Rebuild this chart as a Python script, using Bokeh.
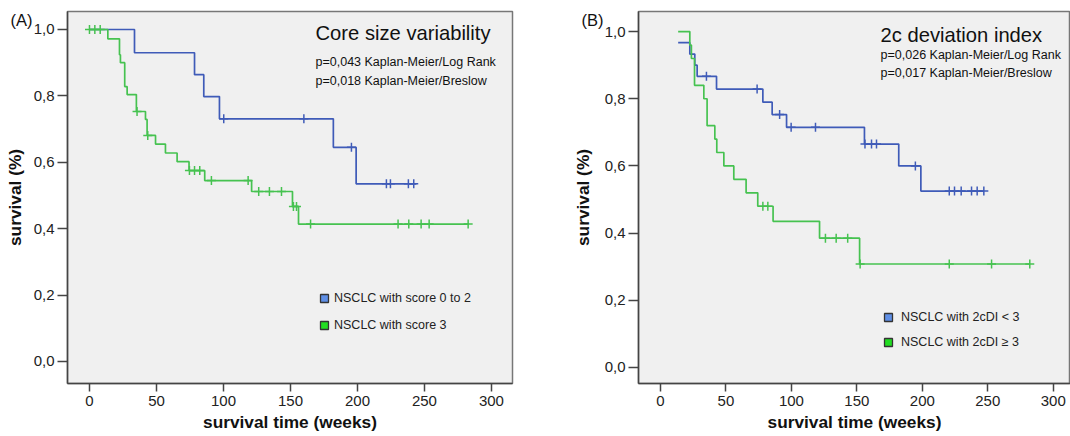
import numpy as np
from bokeh.plotting import figure
from bokeh.models import (Range1d, FixedTicker, CustomJSTickFormatter, Label,
                          Legend, LegendItem)
from bokeh.layouts import row
from bokeh.embed import file_html
from bokeh.resources import INLINE

# ---------------- data ----------------
# Panel A: Core size variability
A_blue_t = [0, 33.6, 78.4, 85.3, 97.0, 182.0, 199.0, 244.0]
A_blue_s = [1.0, 0.930, 0.864, 0.798, 0.731, 0.645, 0.535, 0.535]
A_blue_cens = [100.2, 160.0, 195.5, 221.6, 224.6, 238.0, 242.0]

A_green_t = [0, 13.7, 22.4, 23.1, 26.3, 28.1, 35.0, 41.8, 43.0, 49.3, 56.7,
             65.4, 74.3, 86.0, 121.0, 151.5, 156.0, 282.6]
A_green_s = [1.0, 0.972, 0.924, 0.900, 0.828, 0.804, 0.753, 0.729, 0.681,
             0.655, 0.628, 0.602, 0.575, 0.545, 0.512, 0.467, 0.414, 0.414]
A_green_cens = [0, 4, 8, 35.5, 43.5, 74.6, 78.4, 82.3, 91.0, 118.4, 126.3,
                134.3, 143.3, 152.2, 154.5, 165.0, 230.3, 238.3, 247.5, 253.5,
                282.6]

# Panel B: 2c deviation index
B_blue_t = [13.5, 22.4, 26.2, 28.0, 42.8, 78.2, 85.3, 96.3, 155.8, 182.0,
            198.9, 247.0]
B_blue_s = [0.967, 0.933, 0.900, 0.867, 0.829, 0.790, 0.753, 0.715, 0.665,
            0.600, 0.525, 0.525]
B_blue_cens = [35.1, 73.8, 91.0, 99.8, 118.4, 156.2, 161.2, 165.0, 194.7,
               220.6, 224.6, 229.7, 237.6, 241.9, 247.0]

B_green_t = [13.5, 22.4, 23.6, 26.0, 33.1, 35.6, 41.5, 43.0, 48.4, 56.0,
             65.4, 74.3, 86.0, 121.5, 152.1, 282.1]
B_green_s = [1.0, 0.96, 0.92, 0.84, 0.80, 0.72, 0.68, 0.64, 0.60, 0.56,
             0.52, 0.48, 0.435, 0.385, 0.308, 0.308]
B_green_cens = [78.2, 82.0, 126.0, 134.2, 143.0, 152.5, 220.6, 252.9, 282.1]

x_ticks = [0, 50, 100, 150, 200, 250, 300]
y_ticks = [0.0, 0.2, 0.4, 0.6, 0.8, 1.0]

A_title = "Core size variability"
A_p = ["p=0,043 Kaplan-Meier/Log Rank", "p=0,018 Kaplan-Meier/Breslow"]
A_legend = ["NSCLC with score 0 to 2", "NSCLC with score 3"]
B_title = "2c deviation index"
B_p = ["p=0,026 Kaplan-Meier/Log Rank", "p=0,017 Kaplan-Meier/Breslow"]
B_legend = ["NSCLC with 2cDI < 3", "NSCLC with 2cDI \u2265 3"]

# ---------------- style ----------------
FONT = "Liberation Sans"
BLUE = "#3f5bb8"
GREEN = "#46c250"
SW_BLUE = "#5f8fe6"
SW_GREEN = "#22dd22"
AX = "#444444"


def censor_levels(t, s, c):
    t = np.asarray(t, float)
    s = np.asarray(s, float)
    idx = np.searchsorted(t, np.asarray(c, float), side="right") - 1
    idx = np.clip(idx, 0, len(s) - 1)
    return s[idx]


def panel(width, xr, yr, borders, curves, legend_labels, legend_loc,
          legend_spacing, legend_standoff, title, plines, title_pos, tag,
          tag_offset, ylab_standoff):
    bl, br, bt, bb = borders
    p = figure(width=width, height=436, x_range=Range1d(*xr),
               y_range=Range1d(*yr), output_backend="svg",
               toolbar_location=None, min_border_left=bl,
               min_border_right=br, min_border_top=bt, min_border_bottom=bb)
    p.background_fill_color = "#f0f0f0"
    p.border_fill_color = "white"
    p.xgrid.visible = False
    p.ygrid.visible = False
    p.outline_line_color = "#777777"
    p.outline_line_width = 1.5

    # panel tag "(A)" / "(B)" drawn as the plot title, pulled left and down
    p.title.text = tag
    p.title.align = "left"
    p.title.offset = tag_offset
    p.title.vertical_align = "bottom"
    p.title.standoff = -34
    p.title.text_font = FONT
    p.title.text_font_size = "16.5px"
    p.title.text_font_style = "normal"
    p.title.text_color = "#111111"

    xa = p.below[0]
    ya = p.left[0]
    xa.ticker = FixedTicker(ticks=x_ticks)
    ya.ticker = FixedTicker(ticks=y_ticks)
    ya.formatter = CustomJSTickFormatter(
        code="return tick.toFixed(1).replace('.', ',');")
    for ax in (xa, ya):
        ax.major_tick_in = 0
        ax.minor_tick_line_color = None
        ax.major_tick_line_color = AX
        ax.major_tick_line_width = 1.5
        ax.axis_line_color = AX
        ax.axis_line_width = 1.5
        ax.major_label_text_font = FONT
        ax.major_label_text_font_size = "15px"
        ax.major_label_text_color = "#222222"
        ax.axis_label_text_font = FONT
        ax.axis_label_text_font_style = "bold"
        ax.axis_label_text_font_size = "17.3px"
        ax.axis_label_text_color = "#111111"
    xa.major_tick_out = 8
    ya.major_tick_out = 10
    xa.major_label_standoff = 4
    ya.major_label_standoff = 3
    xa.axis_label = "survival time (weeks)"
    ya.axis_label = "survival (%)"
    xa.axis_label_standoff = 3
    ya.axis_label_standoff = ylab_standoff

    for (t, s, c, col) in curves:
        p.step(x=t, y=s, mode="after", line_color=col, line_width=1.7)
        p.scatter(x=c, y=censor_levels(t, s, c), marker="cross", size=9,
                  line_color=col, line_width=1.5)

    # legend swatches: hidden square renderers (legend shows their glyph)
    sw = []
    for (t, s, c, col), fc in zip(curves, (SW_BLUE, SW_GREEN)):
        r = p.scatter(x=t[:1], y=s[:1], marker="square", fill_color=fc,
                      line_color="#333333", line_width=1.3)
        r.visible = False
        sw.append(r)
    leg = Legend(items=[LegendItem(label=legend_labels[0], renderers=[sw[0]]),
                        LegendItem(label=legend_labels[1], renderers=[sw[1]])],
                 location=legend_loc, orientation="vertical", padding=0,
                 margin=0, spacing=legend_spacing, glyph_width=20,
                 glyph_height=20, label_standoff=legend_standoff,
                 label_text_font=FONT, label_text_font_size="12.5px",
                 label_text_color="#222222", background_fill_alpha=0,
                 border_line_alpha=0, inactive_fill_alpha=0,
                 click_policy="none")
    p.add_layout(leg)

    tx, ty, ty1, ty2 = title_pos
    p.add_layout(Label(x=tx, y=ty, text=title, text_font=FONT,
                       text_font_size="20.2px", text_baseline="middle",
                       text_color="#111111"))
    p.add_layout(Label(x=tx, y=ty1, text=plines[0], text_font=FONT,
                       text_font_size="12.5px", text_baseline="middle",
                       text_color="#111111"))
    p.add_layout(Label(x=tx, y=ty2, text=plines[1], text_font=FONT,
                       text_font_size="12.5px", text_baseline="middle",
                       text_color="#111111"))
    return p


pA = panel(540, (-16.4, 315.7), (-0.0663, 1.0542), (67, 28, 11, 53),
           [(A_blue_t, A_blue_s, A_blue_cens, BLUE),
            (A_green_t, A_green_s, A_green_cens, GREEN)],
           A_legend, (247, 48), 7, 0, A_title, A_p,
           (168.7, 0.988, 0.9006, 0.846), "(A)", -57, 6)

pB = panel(530, (-16.8, 313.2), (-0.0479, 1.0599), (98, 0, 11, 53),
           [(B_blue_t, B_blue_s, B_blue_cens, BLUE),
            (B_green_t, B_green_s, B_green_cens, GREEN)],
           B_legend, (240, 31), 5, 3, B_title, B_p,
           (168.1, 0.991, 0.931, 0.877), "(B)", -57, 9)

layout = row(pA, pB)
open("out.html", "w").write(file_html(layout, INLINE))
